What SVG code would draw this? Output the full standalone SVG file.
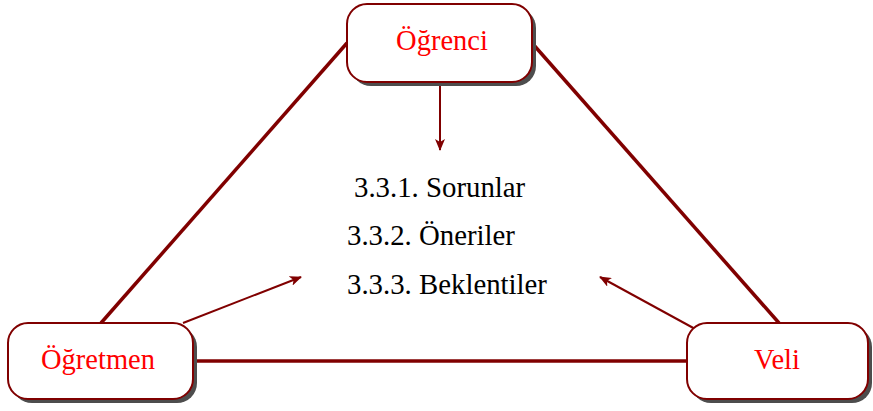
<svg xmlns="http://www.w3.org/2000/svg" width="873" height="411" viewBox="0 0 873 411">
<style>
.shadow{fill:#4d4d4d;stroke:none}
.box{fill:#ffffff;stroke:#800000;stroke-width:2}
.lbl{font-family:'Liberation Serif',serif;font-size:28.5px;fill:#ff0000;text-anchor:middle}
.item{font-family:'Liberation Serif',serif;font-size:28.8px;fill:#000000}
.edge{stroke:#800000;stroke-width:3.5;fill:none;stroke-linecap:butt}
.arr{stroke:#800000;stroke-width:2;fill:none}
</style>
<defs>
<marker id="ah" viewBox="0 0 12 10" refX="11" refY="5" markerWidth="12" markerHeight="10" markerUnits="userSpaceOnUse" orient="auto">
<path d="M0,0 L12,5 L0,10 L3,5 Z" fill="#800000"/>
</marker>
</defs>
<g id="connectors">
<line class="edge" x1="347" y1="43" x2="101" y2="323"/>
<line class="edge" x1="532" y1="43" x2="779" y2="323"/>
<line class="edge" x1="193" y1="361" x2="687" y2="361"/>
<line class="arr" x1="440" y1="82" x2="440" y2="150" marker-end="url(#ah)"/>
<line class="arr" x1="183" y1="323" x2="301" y2="277" marker-end="url(#ah)"/>
<line class="arr" x1="697" y1="330" x2="600" y2="277" marker-end="url(#ah)"/>
</g>
<g id="ogrenci">
<rect class="shadow" x="351" y="8" width="185" height="78" rx="20"/>
<rect class="box" x="347" y="4" width="185" height="78" rx="20"/>
<text class="lbl" x="442" y="50">Öğrenci</text>
</g>
<g id="ogretmen">
<rect class="shadow" x="12" y="327" width="185" height="76" rx="20"/>
<rect class="box" x="8" y="323" width="185" height="76" rx="20"/>
<text class="lbl" x="98" y="369">Öğretmen</text>
</g>
<g id="veli">
<rect class="shadow" x="691" y="327" width="181" height="76" rx="20"/>
<rect class="box" x="687" y="323" width="181" height="76" rx="20"/>
<text class="lbl" x="777" y="369">Veli</text>
</g>
<g id="list">
<text class="item" x="354" y="197">3.3.1. Sorunlar</text>
<text class="item" x="347" y="245">3.3.2. Öneriler</text>
<text class="item" x="347" y="294">3.3.3. Beklentiler</text>
</g>
</svg>
